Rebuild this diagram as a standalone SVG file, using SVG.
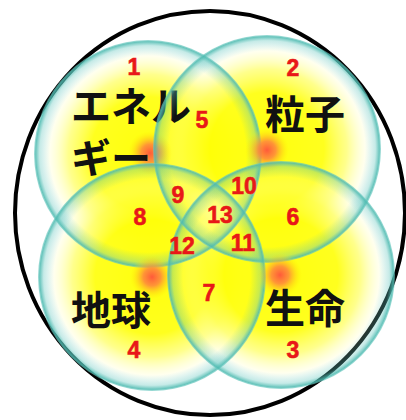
<svg xmlns="http://www.w3.org/2000/svg" width="406" height="420" viewBox="0 0 406 420">
<defs>
<radialGradient id="fill" cx="50%" cy="50%" r="50%">
<stop offset="0" stop-color="#ffff00" stop-opacity="0.95"/>
<stop offset="0.5" stop-color="#ffff00" stop-opacity="0.88"/>
<stop offset="0.7" stop-color="#ffff40" stop-opacity="0.6"/>
<stop offset="0.85" stop-color="#ffffa0" stop-opacity="0.22"/>
<stop offset="0.95" stop-color="#ffffff" stop-opacity="0"/>
</radialGradient>
<radialGradient id="rim" cx="50%" cy="50%" r="50%">
<stop offset="0.86" stop-color="#5cc4bb" stop-opacity="0"/>
<stop offset="0.95" stop-color="#5cc4bb" stop-opacity="0.35"/>
<stop offset="0.985" stop-color="#4dbab0" stop-opacity="0.85"/>
<stop offset="1" stop-color="#6ccac2" stop-opacity="0.6"/>
</radialGradient>
<radialGradient id="spot" cx="50%" cy="50%" r="50%">
<stop offset="0" stop-color="#ff5a3a" stop-opacity="1"/>
<stop offset="0.4" stop-color="#ff8a3a" stop-opacity="0.9"/>
<stop offset="1" stop-color="#ffee00" stop-opacity="0"/>
</radialGradient>
<style>
.label{font-family:"Noto Sans CJK JP","Noto Sans CJK SC",sans-serif;font-weight:700;font-size:40px;fill:#111}
.num{font-family:"Liberation Sans",Arial,sans-serif;font-weight:700;font-size:23px;fill:#e81818;stroke:#e81818;stroke-width:0.6;text-anchor:middle}
</style>
</defs>
<rect width="406" height="420" fill="#ffffff"/>
<ellipse cx="210" cy="213" rx="195" ry="202" fill="none" stroke="#000" stroke-width="4"/>
<g id="fills">
<circle cx="148" cy="154" r="114" fill="url(#fill)"/>
<circle cx="267" cy="149" r="114" fill="url(#fill)"/>
<circle cx="152" cy="277" r="114" fill="url(#fill)"/>
<circle cx="281" cy="275" r="114" fill="url(#fill)"/>
</g>
<g id="node-energy">
<circle cx="148" cy="154" r="114" fill="url(#rim)"/>
<circle cx="150" cy="153" r="22" fill="url(#spot)"/>
<text class="label" x="71" y="121">エネル</text>
<text class="label" x="71" y="173">ギー</text>
</g>
<g id="node-particle">
<circle cx="267" cy="149" r="114" fill="url(#rim)"/>
<circle cx="267" cy="150" r="22" fill="url(#spot)"/>
<text class="label" x="265" y="129">粒子</text>
</g>
<g id="node-earth">
<circle cx="152" cy="277" r="114" fill="url(#rim)"/>
<circle cx="152" cy="277" r="22" fill="url(#spot)"/>
<text class="label" x="71" y="325">地球</text>
</g>
<g id="node-life">
<circle cx="281" cy="275" r="114" fill="url(#rim)"/>
<circle cx="280" cy="275" r="22" fill="url(#spot)"/>
<text class="label" x="265" y="323">生命</text>
</g>
<g id="regions">
<text class="num" x="134" y="75">1</text>
<text class="num" x="293" y="76">2</text>
<text class="num" x="293" y="358">3</text>
<text class="num" x="134" y="358">4</text>
<text class="num" x="202" y="128">5</text>
<text class="num" x="293" y="225">6</text>
<text class="num" x="209" y="301">7</text>
<text class="num" x="140" y="225">8</text>
<text class="num" x="178" y="203">9</text>
<text class="num" x="244" y="194">10</text>
<text class="num" x="243" y="251">11</text>
<text class="num" x="182" y="254">12</text>
<text class="num" x="220" y="223">13</text>
</g>
</svg>
